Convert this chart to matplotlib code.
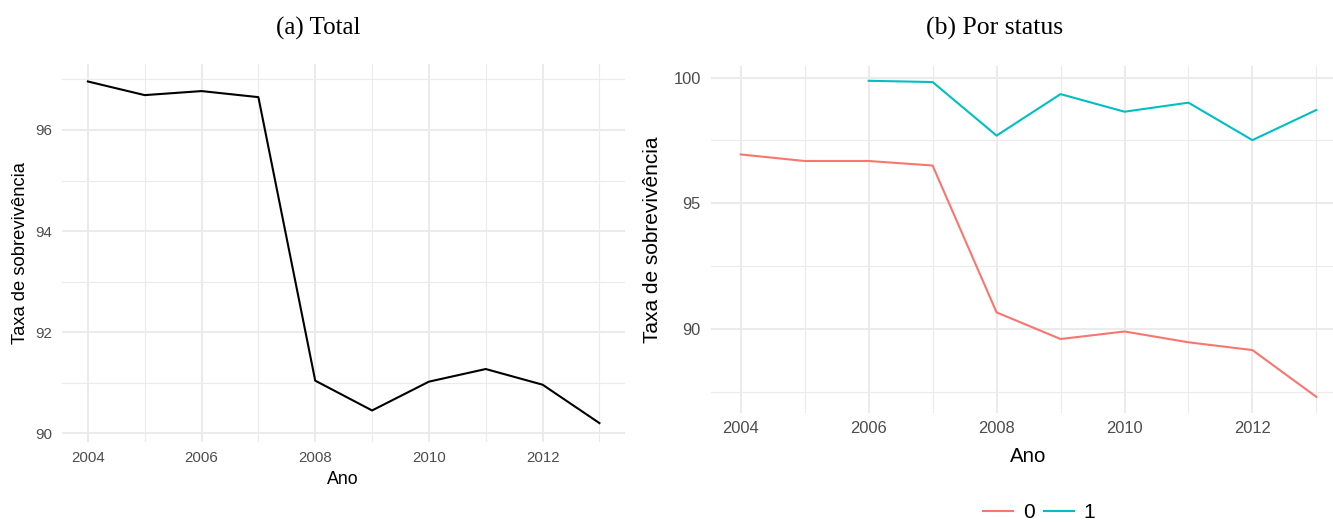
import matplotlib
matplotlib.use("Agg")
import matplotlib.pyplot as plt
from matplotlib.ticker import MultipleLocator, FixedLocator

years = [2004, 2005, 2006, 2007, 2008, 2009, 2010, 2011, 2012, 2013]
total = [96.96, 96.69, 96.77, 96.65, 91.04, 90.45, 91.02, 91.27, 90.96, 90.20]

years_status0 = [2004, 2005, 2006, 2007, 2008, 2009, 2010, 2011, 2012, 2013]
status0 = [96.94, 96.68, 96.68, 96.50, 90.66, 89.60, 89.90, 89.47, 89.16, 87.30]
years_status1 = [2006, 2007, 2008, 2009, 2010, 2011, 2012, 2013]
status1 = [99.87, 99.82, 97.69, 99.34, 98.64, 99.00, 97.51, 98.71]

titles = ["(a) Total", "(b) Por status"]
xlabel = "Ano"
ylabel = "Taxa de sobrevivência"
legend_labels = ["0", "1"]

RED = "#F8766D"
CYAN = "#00BFC4"
GRID = "#EBEBEB"
TICKC = "#4D4D4D"

plt.rcParams['font.family'] = ['Liberation Sans', 'DejaVu Sans']

W, H = 1333, 523
fig = plt.figure(figsize=(W / 100, H / 100), dpi=100)


def px_axes(x0, y0, x1, y1):
    return fig.add_axes([x0 / W, 1 - y1 / H, (x1 - x0) / W, (y1 - y0) / H])


def style(ax, tick_fs):
    for s in ax.spines.values():
        s.set_visible(False)
    ax.grid(True, which='major', color=GRID, linewidth=1.5)
    ax.grid(True, which='minor', color=GRID, linewidth=0.8)
    ax.set_axisbelow(True)
    ax.tick_params(which='both', length=0, labelcolor=TICKC, labelsize=tick_fs)
    ax.tick_params(axis='x', pad=6)
    ax.tick_params(axis='y', pad=7)
    ax.xaxis.set_major_locator(MultipleLocator(2))
    ax.xaxis.set_minor_locator(FixedLocator([2005, 2007, 2009, 2011, 2013]))
    ax.set_facecolor('white')


# Left panel
ax1 = px_axes(62.3, 64.3, 625, 442.3)
ax1.plot(years, total, color='black', linewidth=1.5)
ax1.set_xlim(2003.55, 2013.45)
ax1.set_ylim(89.82, 97.30)
style(ax1, 10.8)
ax1.yaxis.set_major_locator(MultipleLocator(2))
ax1.yaxis.set_minor_locator(FixedLocator([91, 93, 95, 97]))
ax1.set_xlabel(xlabel, fontsize=12.8, va='center')
ax1.xaxis.set_label_coords(343 / W, 1 - 480 / H, transform=fig.transFigure)
ax1.set_ylabel(ylabel, fontsize=13.2, va='center')
ax1.yaxis.set_label_coords(21 / W, 1 - 253 / H, transform=fig.transFigure)

# Right panel
ax2 = px_axes(710.7, 65.7, 1333, 412.7)
l0, = ax2.plot(years_status0, status0, color=RED, linewidth=1.5)
l1, = ax2.plot(years_status1, status1, color=CYAN, linewidth=1.5)
ax2.set_xlim(2003.53, 2013.26)
ax2.set_ylim(86.67, 100.47)
style(ax2, 11.9)
ax2.yaxis.set_major_locator(MultipleLocator(5))
ax2.yaxis.set_minor_locator(FixedLocator([87.5, 92.5, 97.5]))
ax2.set_xlabel(xlabel, fontsize=14.7, va='center')
ax2.xaxis.set_label_coords(1028 / W, 1 - 456 / H, transform=fig.transFigure)
ax2.set_ylabel(ylabel, fontsize=15, va='center')
ax2.yaxis.set_label_coords(653 / W, 1 - 240 / H, transform=fig.transFigure)

fig.legend([l0, l1], legend_labels, loc='center', ncol=2, frameon=False,
           bbox_to_anchor=(1039 / W, 1 - 513 / H), fontsize=15,
           handlelength=1.45, handletextpad=0.45, columnspacing=0.45,
           borderpad=0, borderaxespad=0)

fig.text(318 / W, 1 - 28 / H, titles[0], family=['Liberation Serif', 'DejaVu Serif'],
         fontsize=18, ha='center', va='center')
fig.text(995 / W, 1 - 28 / H, titles[1], family=['Liberation Serif', 'DejaVu Serif'],
         fontsize=18.5, ha='center', va='center')

fig.savefig("out.png", dpi=100, facecolor='white')
